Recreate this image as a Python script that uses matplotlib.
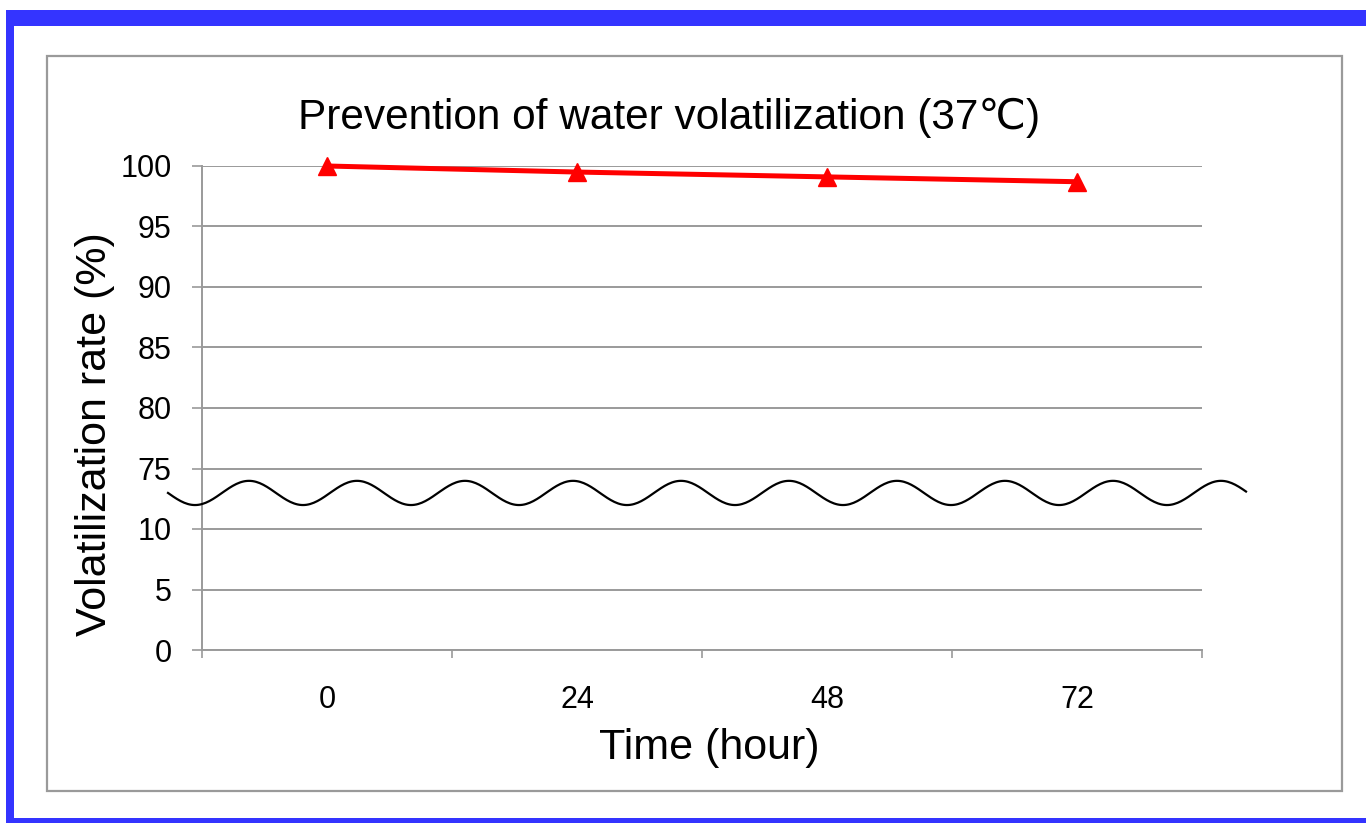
import matplotlib
matplotlib.use("Agg")
import matplotlib.pyplot as plt
import numpy as np
from matplotlib.patches import Rectangle

# data
hours = ["0", "24", "48", "72"]
rate = [100.0, 99.5, 99.1, 98.7]
lower_ticks = [0, 5, 10]
upper_ticks = [75, 80, 85, 90, 95, 100]
BREAK_OFFSET = 60  # upper segment is shifted down so 75 sits right after 10

plt.rcParams["font.family"] = ["Liberation Sans", "DejaVu Sans"]

W, H = 1366, 823
fig = plt.figure(figsize=(W / 100, H / 100), dpi=100)


def fx(px):
    return px / W


def fy(py):
    return 1 - py / H


# blue frame (top, left, bottom)
blue = "#3434ff"
for x0, y0, x1, y1 in [(6, 10, W, 26), (6, 10, 14, H), (6, 818, W, H)]:
    fig.patches.append(Rectangle((fx(x0), fy(y1)), fx(x1) - fx(x0), fy(y0) - fy(y1),
                                 transform=fig.transFigure, color=blue, lw=0, zorder=0))

# gray chart area border
fig.patches.append(Rectangle((fx(47), fy(791)), fx(1342) - fx(47), fy(56) - fy(791),
                             transform=fig.transFigure, fill=False, ec="#9a9a9a", lw=1.6, zorder=1))

ax = fig.add_axes([fx(202), fy(650), fx(1202) - fx(202), fy(166) - fy(650)])
ax.set_facecolor("none")

x = np.arange(len(hours))
y_plot = [v - BREAK_OFFSET for v in rate]
ax.plot(x, y_plot, color="red", lw=3.6, marker="^", ms=13.5, mec="red", mfc="red",
        zorder=5, clip_on=False)

ytick_pos = lower_ticks + [v - BREAK_OFFSET for v in upper_ticks]
ytick_lab = [str(v) for v in lower_ticks + upper_ticks]
ax.set_ylim(0, 40)
ax.set_yticks(ytick_pos)
ax.set_yticklabels(ytick_lab, fontsize=22)
ax.yaxis.grid(True, color="#9a9a9a", lw=1.4)
ax.set_axisbelow(True)

ax.set_xlim(-0.5, len(hours) - 0.5)
ax.set_xticks(x)
ax.set_xticklabels(hours, fontsize=22)
ax.set_xticks(np.arange(len(hours) + 1) - 0.5, minor=True)
ax.tick_params(axis="x", which="major", length=0, pad=25)
ax.tick_params(axis="x", which="minor", length=6, width=1.2, color="#9a9a9a")
ax.tick_params(axis="y", length=7, width=1.2, color="#9a9a9a", pad=15)

for side in ["top", "right"]:
    ax.spines[side].set_visible(False)
for side in ["left", "bottom"]:
    ax.spines[side].set_color("#9a9a9a")
    ax.spines[side].set_linewidth(1.4)

# axis break wave
px_per_x = (1202 - 202) / len(hours)
wx = np.linspace(-0.5 - 34 / px_per_x, len(hours) - 0.5 + 44 / px_per_x, 600)
period = 108 / px_per_x
wy = 12.98 - 1.0 * np.sin(2 * np.pi * (wx - wx[0]) / period)
ax.plot(wx, wy, color="black", lw=1.6, clip_on=False, zorder=6)

fig.text(fx(669), fy(118), "Prevention of water volatilization (37\u2103)",
         ha="center", va="center", fontsize=30.5)
fig.text(fx(95), fy(434), "Volatilization rate (%)", rotation=90,
         ha="center", va="center", fontsize=31)
fig.text(fx(709), fy(748), "Time (hour)", ha="center", va="center", fontsize=31)

fig.savefig("out.png", dpi=100)
